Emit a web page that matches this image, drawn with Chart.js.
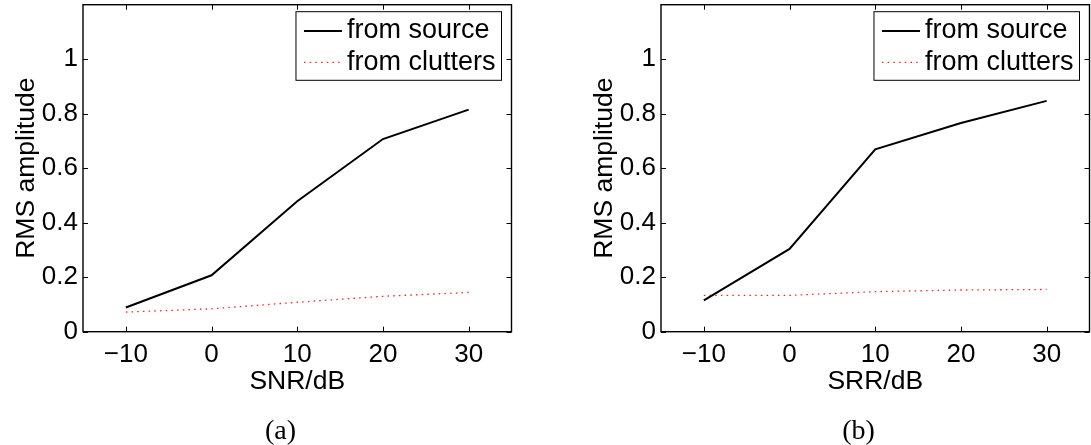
<!DOCTYPE html>
<html>
<head>
<meta charset="utf-8">
<script src="https://cdn.jsdelivr.net/npm/chart.js@4.4.1/dist/chart.umd.min.js"></script>
<style>
  html, body { margin: 0; padding: 0; background: #fff; overflow: hidden; }
  #wrap { position: relative; width: 1091px; height: 445px; overflow: hidden; }
  canvas { position: absolute; top: 0; }
  #panelA { left: 0; }
  #panelB { left: 578px; }
</style>
</head>
<body>
<div id="wrap">
  <canvas id="panelA" width="561" height="445"></canvas>
  <canvas id="panelB" width="561" height="445"></canvas>
</div>
<script>
// x positions (dB) and tick labels
const dbLevels = [-10, 0, 10, 20, 30];
const xTickLabels = ['\u221210', '0', '10', '20', '30'];
const yTickValues = [0, 0.2, 0.4, 0.6, 0.8, 1];
const yTickLabels = ['0', '0.2', '0.4', '0.6', '0.8', '1'];
const seriesNames = ['from source', 'from clutters'];

// RMS amplitude vs SNR
const snrSource = [0.089, 0.207, 0.479, 0.707, 0.815];
const snrClutters = [0.072, 0.084, 0.108, 0.130, 0.144];
// RMS amplitude vs SRR
const srrSource = [0.115, 0.304, 0.669, 0.766, 0.847];
const srrClutters = [0.133, 0.133, 0.147, 0.153, 0.155];

const sans = '"Liberation Sans", Arial, sans-serif';
const serif = '"Liberation Serif", "Times New Roman", serif';

// closed axes box with inward ticks on all four sides
const boxedAxes = {
    id: 'boxedAxes',
    afterDatasetsDraw(chart) {
        const { ctx, chartArea: a, scales: { x, y } } = chart;
        ctx.save();
        ctx.strokeStyle = '#000';
        ctx.lineWidth = 1;
        ctx.beginPath();
        x.ticks.forEach(t => {
            const px = Math.round(x.getPixelForValue(t.value)) + 0.5;
            ctx.moveTo(px, a.bottom); ctx.lineTo(px, a.bottom - 5);
            ctx.moveTo(px, a.top); ctx.lineTo(px, a.top + 5);
        });
        y.ticks.forEach(t => {
            const py = Math.round(y.getPixelForValue(t.value)) + 0.5;
            ctx.moveTo(a.left, py); ctx.lineTo(a.left + 5, py);
            ctx.moveTo(a.right, py); ctx.lineTo(a.right - 5, py);
        });
        ctx.stroke();
        ctx.lineWidth = 1.4;
        ctx.strokeRect(a.left, a.top, a.right - a.left, a.bottom - a.top);
        ctx.restore();
    }
};

// legend box drawn inside the plot, top right corner
const insetLegend = {
    id: 'insetLegend',
    afterDraw(chart) {
        const { ctx, chartArea: a } = chart;
        const sets = chart.data.datasets;
        ctx.save();
        ctx.font = '27px ' + sans;
        const textW = Math.max(...sets.map(d => ctx.measureText(d.label).width));
        const padL = 8, sample = 38, gap = 5, padR = 6, rowH = 31.3;
        const w = padL + sample + gap + textW + padR;
        const h = 68.6;
        const bx = a.right - 10 - w, by = a.top + 7;
        ctx.fillStyle = '#fff';
        ctx.fillRect(bx, by, w, h);
        ctx.strokeStyle = '#000';
        ctx.lineWidth = 1;
        ctx.strokeRect(bx, by, w, h);
        sets.forEach((d, i) => {
            const cy = by + 19.3 + i * rowH;
            ctx.beginPath();
            ctx.setLineDash(d.borderDash || []);
            ctx.strokeStyle = d.borderColor;
            ctx.lineWidth = d.borderWidth;
            ctx.moveTo(bx + padL, cy);
            ctx.lineTo(bx + padL + sample, cy);
            ctx.stroke();
            ctx.setLineDash([]);
            ctx.fillStyle = '#000';
            ctx.textAlign = 'left';
            ctx.textBaseline = 'middle';
            ctx.fillText(d.label, bx + padL + sample + gap, cy);
        });
        ctx.restore();
    }
};

// panel caption, centred on the canvas under the axis title
const caption = {
    id: 'caption',
    afterDraw(chart, args, opts) {
        const { ctx } = chart;
        ctx.save();
        ctx.font = '28px ' + serif;
        ctx.fillStyle = '#000';
        ctx.textAlign = 'center';
        ctx.textBaseline = 'alphabetic';
        ctx.fillText(opts.text, chart.width / 2, 439);
        ctx.restore();
    }
};

function makePanel(canvasId, xTitle, source, clutters, captionText) {
    const ctx = document.getElementById(canvasId).getContext('2d');
    return new Chart(ctx, {
        type: 'line',
        data: {
            datasets: [{
                label: seriesNames[0],
                data: dbLevels.map((v, i) => ({ x: v, y: source[i] })),
                borderColor: '#000',
                borderWidth: 2,
                pointRadius: 0,
                tension: 0,
            }, {
                label: seriesNames[1],
                data: dbLevels.map((v, i) => ({ x: v, y: clutters[i] })),
                borderColor: '#ff2020',
                borderWidth: 1.3,
                borderDash: [1.5, 4.2],
                pointRadius: 0,
                tension: 0,
            }]
        },
        options: {
            responsive: false,
            animation: false,
            events: [],
            layout: { padding: { left: 0, top: 4.7, right: 49.5, bottom: 29 } },
            plugins: {
                legend: { display: false },
                tooltip: { enabled: false },
                caption: { text: captionText }
            },
            scales: {
                x: {
                    type: 'linear',
                    min: -15,
                    max: 35,
                    afterBuildTicks: s => { s.ticks = dbLevels.map(v => ({ value: v })); },
                    afterFit: s => { s.height = 84.3; s.paddingLeft = 0; s.paddingRight = 0; },
                    grid: { display: false, drawTicks: false },
                    border: { display: false },
                    ticks: {
                        padding: 8,
                        color: '#000',
                        maxRotation: 0,
                        autoSkip: false,
                        font: { family: sans, size: 26 },
                        callback: (v, i) => xTickLabels[i]
                    },
                    title: {
                        display: true,
                        text: xTitle,
                        color: '#000',
                        font: { family: sans, size: 26.5 },
                        padding: { top: 0, bottom: 18.8 }
                    }
                },
                y: {
                    type: 'linear',
                    min: 0,
                    max: 1.2,
                    afterBuildTicks: s => { s.ticks = yTickValues.map(v => ({ value: v })); },
                    afterFit: s => { s.width = 83; s.paddingTop = 0; s.paddingBottom = 0; },
                    grid: { display: false, drawTicks: false },
                    border: { display: false },
                    ticks: {
                        padding: 5,
                        color: '#000',
                        font: { family: sans, size: 26 },
                        callback: (v, i) => yTickLabels[i]
                    },
                    title: {
                        display: true,
                        text: 'RMS amplitude',
                        color: '#000',
                        font: { family: sans, size: 26.5 },
                        padding: { top: 11, bottom: 0 }
                    }
                }
            }
        },
        plugins: [boxedAxes, insetLegend, caption]
    });
}

makePanel('panelA', 'SNR/dB', snrSource, snrClutters, '(a)');
makePanel('panelB', 'SRR/dB', srrSource, srrClutters, '(b)');
</script>
</body>
</html>
